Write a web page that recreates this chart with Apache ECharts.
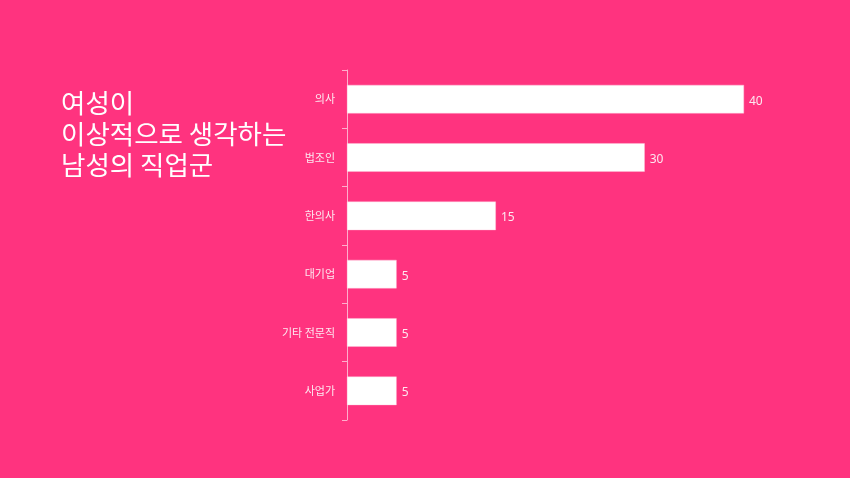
<!DOCTYPE html>
<html><head><meta charset="utf-8">
<script src="https://cdn.jsdelivr.net/npm/echarts@6/dist/echarts.min.js"></script>
<style>html,body{margin:0;padding:0;background:#FF337F;}#c{width:850px;height:478px;}</style>
</head><body><div id="c"></div>
<script>
const categories = ['의사', '법조인', '한의사', '대기업', '기타 전문직', '사업가'];
const values = [40, 30, 15, 5, 5, 5];
const titleText = '여성이\n이상적으로 생각하는\n남성의 직업군';

const chart = echarts.init(document.getElementById('c'));
chart.setOption({
  backgroundColor: '#FF337F',
  animation: false,
  title: {
    text: titleText,
    left: 56, top: 82,
    textStyle: { color: '#ffffff', fontSize: 26.5, fontWeight: 'normal', lineHeight: 31, fontFamily: 'Noto Sans CJK KR' }
  },
  grid: { left: 347, top: 70, width: 397, height: 350 },
  xAxis: { type: 'value', min: 0, max: 40, show: false },
  yAxis: {
    type: 'category', data: categories, inverse: true,
    axisLine: { show: true, lineStyle: { color: 'rgba(255,255,255,0.6)', width: 1 } },
    axisTick: { show: true, length: 5, lineStyle: { color: 'rgba(255,255,255,0.6)' } },
    axisLabel: { color: '#fde8f0', fontSize: 11, margin: 12, fontFamily: 'Noto Sans CJK KR' }
  },
  series: [{
    type: 'bar', data: values, barWidth: '49%',
    itemStyle: { color: '#ffffff', borderColor: 'rgba(255,200,220,0.8)', borderWidth: 0.5 },
    label: { show: true, position: 'right', color: '#fde8f0', fontSize: 12, distance: 5, offset: [0, 2], fontFamily: 'Noto Sans' }
  }]
});
</script></body></html>
